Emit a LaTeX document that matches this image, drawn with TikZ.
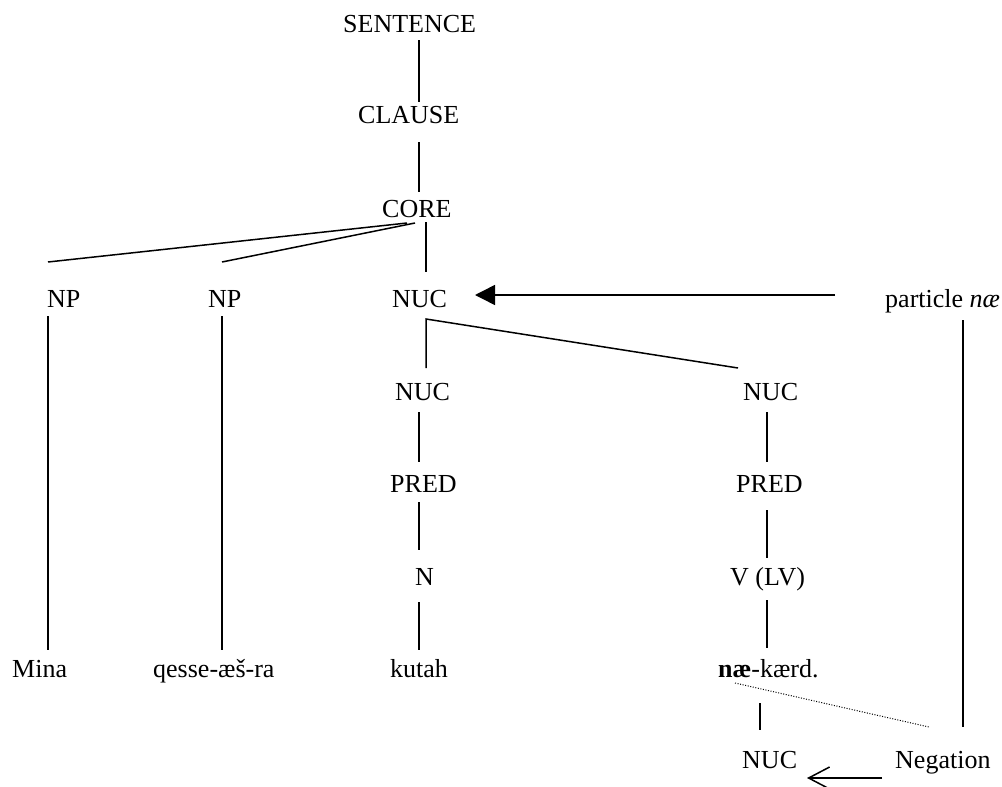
\documentclass[tikz,border=0pt]{standalone}
\usepackage{fontspec}
\setmainfont{Liberation Serif}
\usetikzlibrary{arrows.meta}
\begin{document}
\begin{tikzpicture}[x=1pt,y=-1pt,
  lbl/.style={anchor=base west,inner sep=0pt,font=\fontsize{26}{30}\selectfont},
  edge/.style={line width=1.5pt},
  dots/.style={line width=1pt,dash pattern=on 1pt off 1.6pt},
  solidtip/.style={line width=1.5pt,-{Triangle[length=20pt,width=20pt]}},
  opentip/.style={line width=1.5pt,-{Straight Barb[length=21pt,width=22pt]}}]
\useasboundingbox (0,0) rectangle (1002,787);
\node[lbl] (sentence) at (343,32) {SENTENCE};
\node[lbl] (clause) at (358,123) {CLAUSE};
\node[lbl] (core) at (382,217) {CORE};
\node[lbl] (np1) at (47,307) {NP};
\node[lbl] (np2) at (208,307) {NP};
\node[lbl] (nuc) at (392,307) {NUC};
\node[lbl] (particle) at (885,307) {particle \textit{næ}};
\node[lbl] (nuca) at (395,400) {NUC};
\node[lbl] (nucb) at (743,400) {NUC};
\node[lbl] (preda) at (390,492) {PRED};
\node[lbl] (predb) at (736,492) {PRED};
\node[lbl] (n) at (415,585) {N};
\node[lbl] (v) at (730,585) {V (LV)};
\node[lbl] (mina) at (12,677) {Mina};
\node[lbl] (qesse) at (153,677) {qesse-æš-ra};
\node[lbl] (kutah) at (390,677) {kutah};
\node[lbl] (nae) at (718,677) {\textbf{næ}-kærd.};
\node[lbl] (nucbot) at (742,768) {NUC};
\node[lbl] (neg) at (895,768) {Negation};

\draw[edge] ([shift={(76,8)}]sentence.base west) -- ([shift={(61,-21)}]clause.base west);
\draw[edge] ([shift={(61,19)}]clause.base west) -- ([shift={(37,-25)}]core.base west);
\draw[edge] ([shift={(25,6)}]core.base west) -- ([shift={(1,-45)}]np1.base west);
\draw[edge] ([shift={(33,6)}]core.base west) -- ([shift={(14,-45)}]np2.base west);
\draw[edge] ([shift={(44,5)}]core.base west) -- ([shift={(34,-35)}]nuc.base west);
\draw[edge] ([shift={(1,9)}]np1.base west) -- ([shift={(36,-27)}]mina.base west);
\draw[edge] ([shift={(14,9)}]np2.base west) -- ([shift={(69,-27)}]qesse.base west);
\draw[edge] ([shift={(31,-32)}]nuca.base west) -- ([shift={(34,12)}]nuc.base west) -- ([shift={(-5,-32)}]nucb.base west);
\draw[edge] ([shift={(24,12)}]nuca.base west) -- ([shift={(29,-30)}]preda.base west);
\draw[edge] ([shift={(29,10)}]preda.base west) -- ([shift={(4,-35)}]n.base west);
\draw[edge] ([shift={(4,17)}]n.base west) -- ([shift={(29,-27)}]kutah.base west);
\draw[edge] ([shift={(24,12)}]nucb.base west) -- ([shift={(31,-30)}]predb.base west);
\draw[edge] ([shift={(31,18)}]predb.base west) -- ([shift={(37,-27)}]v.base west);
\draw[edge] ([shift={(37,15)}]v.base west) -- ([shift={(49,-29)}]nae.base west);
\draw[edge] ([shift={(42,26)}]nae.base west) -- ([shift={(18,-38)}]nucbot.base west);
\draw[edge] ([shift={(78,13)}]particle.base west) -- ([shift={(68,-41)}]neg.base west);
\draw[dots] ([shift={(17,6)}]nae.base west) -- ([shift={(34,-41)}]neg.base west);
\draw[solidtip] ([shift={(-50,-12)}]particle.base west) -- ([shift={(83,-12)}]nuc.base west);
\draw[opentip] ([shift={(-13,10)}]neg.base west) -- ([shift={(65,10)}]nucbot.base west);
\end{tikzpicture}
\end{document}
